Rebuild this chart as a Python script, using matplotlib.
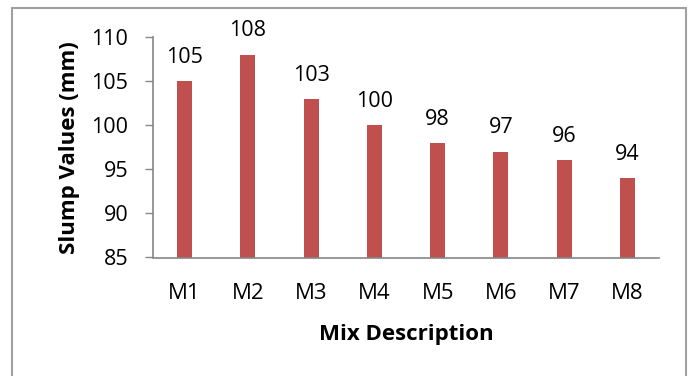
import matplotlib.pyplot as plt
from matplotlib.patches import Rectangle

mixes = ['M1', 'M2', 'M3', 'M4', 'M5', 'M6', 'M7', 'M8']
slump = [105, 108, 103, 100, 98, 97, 96, 94]
y_ticks = [85, 90, 95, 100, 105, 110]

plt.rcParams['font.family'] = ['Open Sans', 'DejaVu Sans']

W, H = 693, 376
fig = plt.figure(figsize=(W / 100, H / 100), dpi=100)
ax = fig.add_axes([153 / W, 1 - 257.5 / H, (659 - 153) / W, (257.5 - 37) / H])

bar_color = '#C0504D'
axis_color = '#868686'

ax.bar(range(len(mixes)), slump, width=0.24, color=bar_color)
for i, v in enumerate(slump):
    ax.text(i, v + 1.5, str(v), ha='center', va='bottom', fontsize=15.5, color='black')

ax.set_xlim(-0.5, len(mixes) - 0.5)
ax.set_ylim(85, 110)
ax.set_yticks(y_ticks)
ax.set_xticks(range(len(mixes)))
ax.set_xticklabels(mixes)
ax.tick_params(axis='y', labelsize=15.5, length=5.8, width=1, color=axis_color, pad=12)
ax.tick_params(axis='x', labelsize=16, length=0, pad=18.5)

for side in ['top', 'right']:
    ax.spines[side].set_visible(False)
for side in ['left', 'bottom']:
    ax.spines[side].set_color(axis_color)
    ax.spines[side].set_linewidth(1.2)

ax.set_ylabel('Slump Values (mm)', fontsize=16, fontweight='bold', labelpad=8)
ax.set_xlabel('Mix Description', fontsize=16, fontweight='bold', labelpad=14.5)

# outer chart frame
fig.patches.append(Rectangle((12 / W, -0.05), (686 - 12) / W, 1.05 - 8 / H,
                             transform=fig.transFigure, fill=False,
                             edgecolor='#A0A0A0', linewidth=1.5))

fig.savefig('out.png', dpi=100)
